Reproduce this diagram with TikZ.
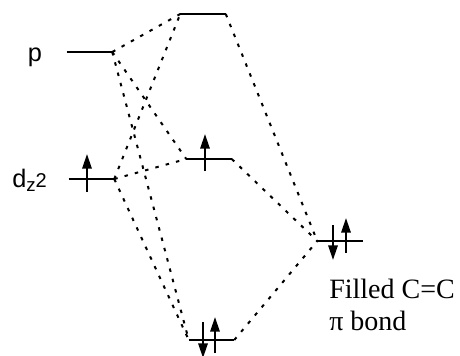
\documentclass[tikz,border=0pt]{standalone}
\usepackage{fontspec}
\setmainfont{Liberation Serif}
\newfontfamily\labelfont{Liberation Sans}
\usetikzlibrary{arrows.meta,calc}
\tikzset{
  level/.style={rectangle,inner sep=0pt,minimum width=33.75pt,minimum height=0pt},
  levelline/.style={line width=1.6pt,line cap=butt},
  spin/.style={-{Triangle[length=11pt,width=7pt]},line width=1.6pt},
  corr/.style={line width=1.5pt,dash pattern=on 2.6pt off 5.4pt},
  orb/.style={font=\labelfont\fontsize{19}{20}\selectfont,inner sep=0pt}
}
\begin{document}
\begin{tikzpicture}[x=0.75pt,y=-0.75pt]
  \useasboundingbox (0,0) rectangle (460,356);
  % energy levels
  \node[level] (p) at (89.5,52) {};
  \node[level] (dz) at (91.5,179) {};
  \node[level] (top) at (203,14) {};
  \node[level] (mid) at (209,159) {};
  \node[level] (pi) at (340,241) {};
  \node[level] (bot) at (211.5,340) {};
  \foreach \n in {p,dz,top,mid,pi,bot}
    \draw[levelline] (\n.west) -- (\n.east);
  % labels
  \node[orb,anchor=base] (plab) at (35,62) {p};
  \node[orb,anchor=base west] (dlab) at (12,187)
    {d\raisebox{-0.35ex}{\fontsize{14}{15}\selectfont z}{\fontsize{15}{16}\selectfont 2}};
  \node[anchor=base west,align=left,inner sep=0pt,font=\fontsize{21}{24}\selectfont] (pilab)
    at (329,330) {Filled C=C\\π bond};
  % electrons
  \draw[spin] ($(dz.center)+(-4.5,13)$) -- ++(0,-38);
  \draw[spin] ($(mid.center)+(-4,12)$) -- ++(0,-37);
  \draw[spin] ($(pi.center)+(-7,-16)$) -- ++(0,35);
  \draw[spin] ($(pi.center)+(6,12)$) -- ++(0,-35);
  \draw[spin] ($(bot.center)+(-8.5,-18)$) -- ++(0,36);
  \draw[spin] ($(bot.center)+(3.5,13)$) -- ++(0,-36);
  % correlation lines
  \draw[corr] (p.east) -- (top.west);
  \draw[corr] (p.east) -- (mid.west);
  \draw[corr] (p.east) -- (bot.west);
  \draw[corr] (dz.east) -- (top.west);
  \draw[corr] (dz.east) -- (mid.west);
  \draw[corr] (dz.east) -- (bot.west);
  \draw[corr] (top.east) -- (pi.west);
  \draw[corr] (mid.east) -- (pi.west);
  \draw[corr] (bot.east) -- (pi.west);
\end{tikzpicture}
\end{document}
